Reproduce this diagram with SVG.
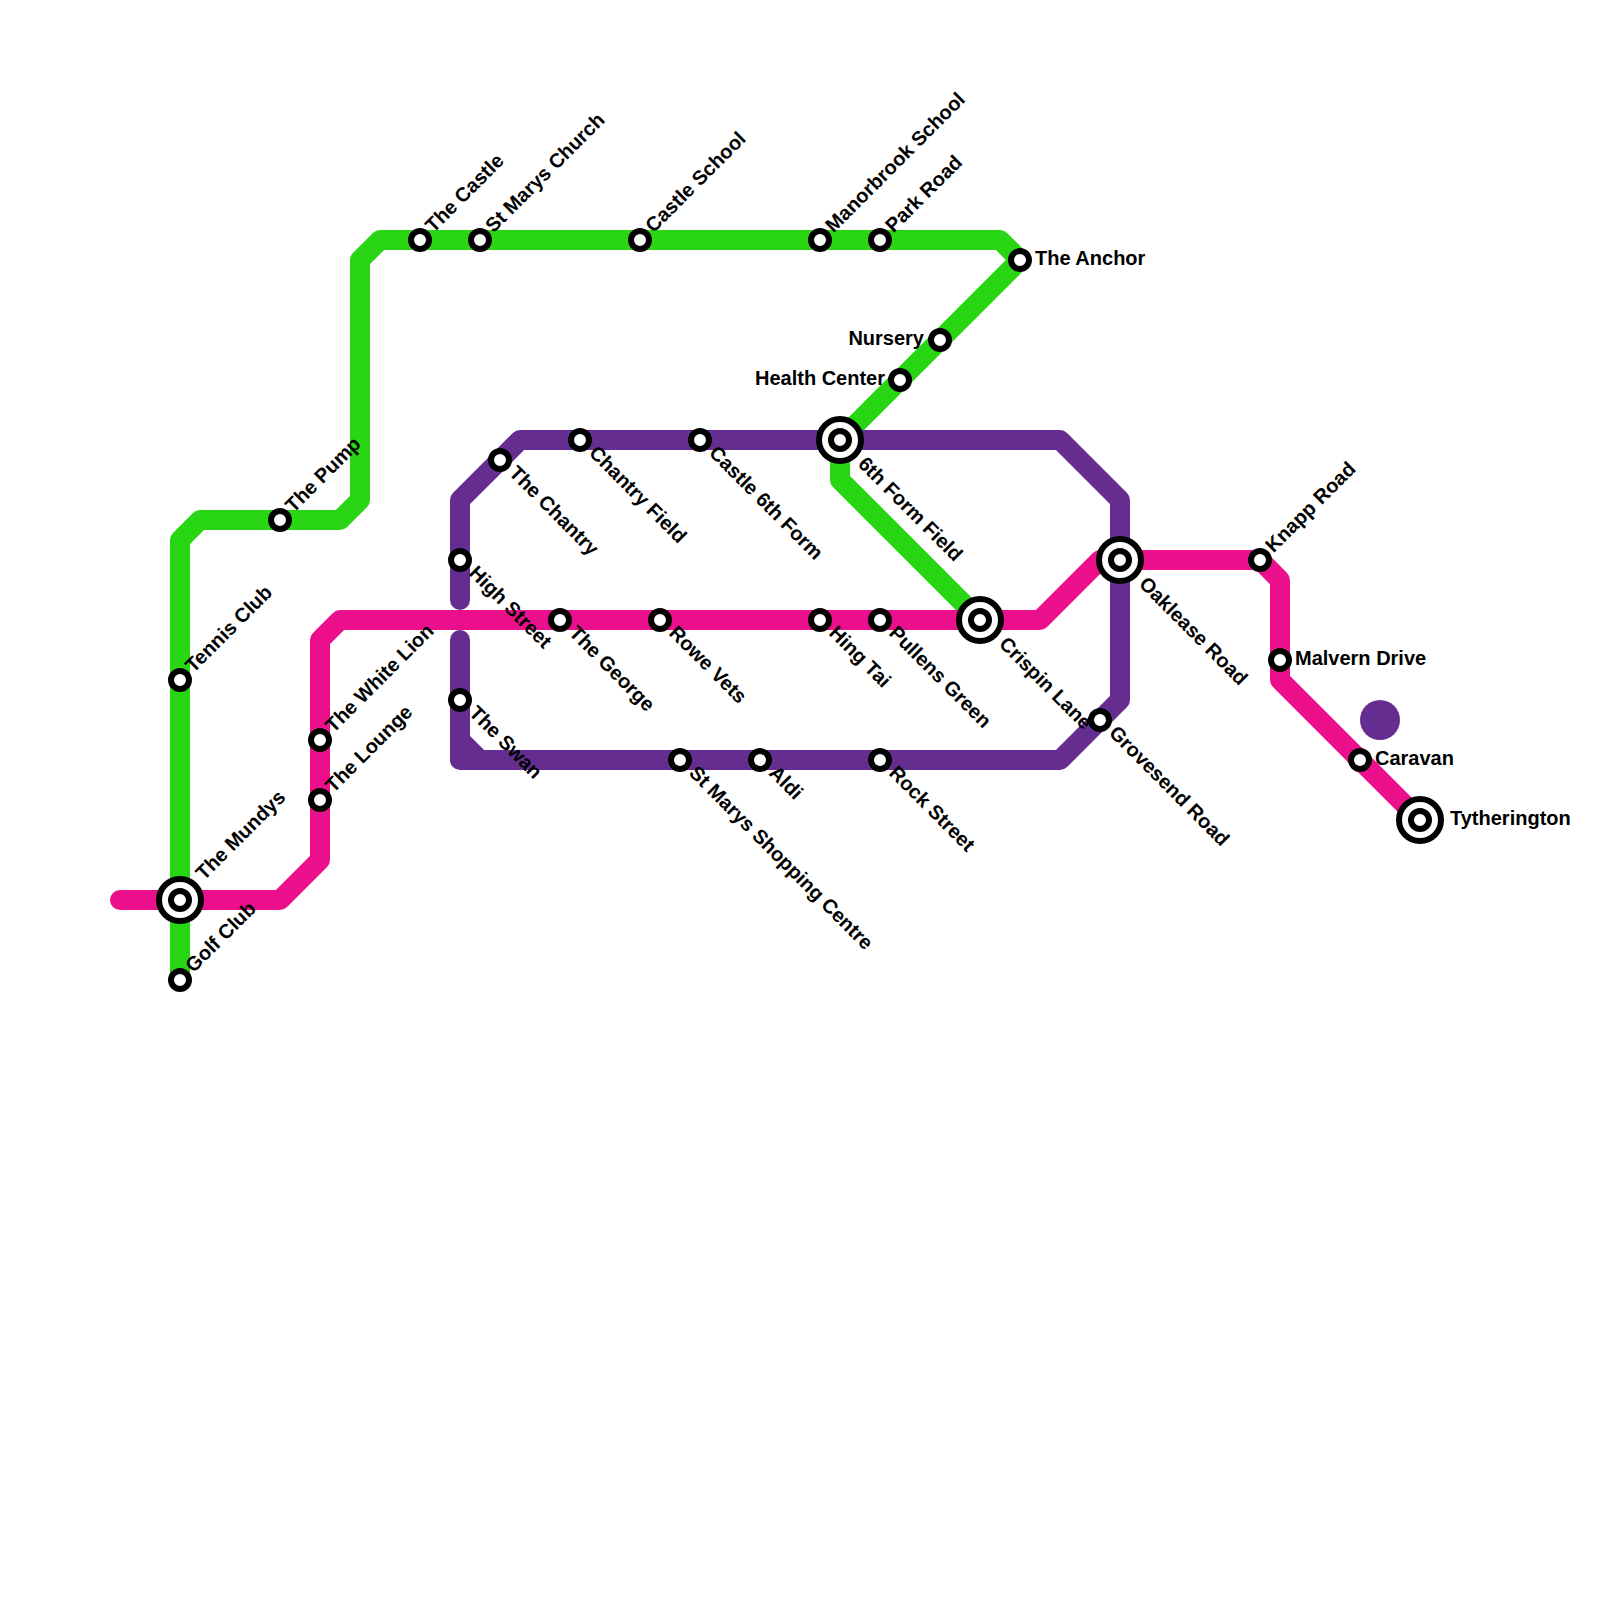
<svg xmlns="http://www.w3.org/2000/svg" width="1600" height="1600" viewBox="0 0 1600 1600">
<style>
.l{fill:none;stroke-width:20;stroke-linecap:round;stroke-linejoin:round}
.g{stroke:#29d613}.p{stroke:#662d91}.m{stroke:#ec0f8c}
.o{fill:#fff;stroke:#000;stroke-width:6}
text{font-family:"Liberation Sans",Arial,sans-serif;font-weight:700;font-size:20px;fill:#000}
.e{text-anchor:end}
</style>
<defs>
<g id="s"><circle class="o" r="9"/></g>
<g id="b"><circle class="o" r="21"/><circle class="o" r="9"/></g>
</defs>
<g id="connectors">
<path class="l g" d="M180 980V540L200 520H340L360 500V260L380 240H1000L1020 260L840 440V480L980 620"/>
<path class="l p" d="M460 600V500L520 440H1060L1120 500V700L1060 760H460V640M460 740L480 760"/>
<path class="l m" d="M120 900H280L320 860V640L340 620H1040L1100 560H1260L1280 580V680L1420 820"/>
</g>
<circle id="decor" cx="1380" cy="720" r="20" fill="#662d91"/>
<g id="the-mundys"><use href="#b" x="180" y="900"/><text transform="translate(204 881) rotate(-45)">The Mundys</text></g>
<g id="golf-club"><use href="#s" x="180" y="980"/><text transform="translate(193.500 973.500) rotate(-45)">Golf Club</text></g>
<g id="tennis-club"><use href="#s" x="180" y="680"/><text transform="translate(193.500 673.500) rotate(-45)">Tennis Club</text></g>
<g id="the-pump"><use href="#s" x="280" y="520"/><text transform="translate(293.500 513.500) rotate(-45)">The Pump</text></g>
<g id="the-castle"><use href="#s" x="420" y="240"/><text transform="translate(433.500 233.500) rotate(-45)">The Castle</text></g>
<g id="st-marys-church"><use href="#s" x="480" y="240"/><text transform="translate(493.500 233.500) rotate(-45)">St Marys Church</text></g>
<g id="castle-school"><use href="#s" x="640" y="240"/><text transform="translate(653.500 233.500) rotate(-45)">Castle School</text></g>
<g id="manorbrook-school"><use href="#s" x="820" y="240"/><text transform="translate(833.500 233.500) rotate(-45)">Manorbrook School</text></g>
<g id="park-road"><use href="#s" x="880" y="240"/><text transform="translate(893.500 233.500) rotate(-45)">Park Road</text></g>
<g id="the-anchor"><use href="#s" x="1020" y="260"/><text x="1035" y="265">The Anchor</text></g>
<g id="nursery"><use href="#s" x="940" y="340"/><text class="e" x="924" y="345">Nursery</text></g>
<g id="health-center"><use href="#s" x="900" y="380"/><text class="e" x="885" y="385">Health Center</text></g>
<g id="the-white-lion"><use href="#s" x="320" y="740"/><text transform="translate(333.500 733.500) rotate(-45)">The White Lion</text></g>
<g id="the-lounge"><use href="#s" x="320" y="800"/><text transform="translate(333.500 793.500) rotate(-45)">The Lounge</text></g>
<g id="knapp-road"><use href="#s" x="1260" y="560"/><text transform="translate(1273.500 553.500) rotate(-45)">Knapp Road</text></g>
<g id="the-chantry"><use href="#s" x="500" y="460"/><text transform="translate(508 474) rotate(45)">The Chantry</text></g>
<g id="chantry-field"><use href="#s" x="580" y="440"/><text transform="translate(588 454) rotate(45)">Chantry Field</text></g>
<g id="castle-6th-form"><use href="#s" x="700" y="440"/><text transform="translate(708 454) rotate(45)">Castle 6th Form</text></g>
<g id="6th-form-field"><use href="#b" x="840" y="440"/><text transform="translate(857 465) rotate(45)">6th Form Field</text></g>
<g id="high-street"><use href="#s" x="460" y="560"/><text transform="translate(468 574) rotate(45)">High Street</text></g>
<g id="the-george"><use href="#s" x="560" y="620"/><text transform="translate(568 634) rotate(45)">The George</text></g>
<g id="rowe-vets"><use href="#s" x="660" y="620"/><text transform="translate(668 634) rotate(45)">Rowe Vets</text></g>
<g id="hing-tai"><use href="#s" x="820" y="620"/><text transform="translate(828 634) rotate(45)">Hing Tai</text></g>
<g id="pullens-green"><use href="#s" x="880" y="620"/><text transform="translate(888 634) rotate(45)">Pullens Green</text></g>
<g id="crispin-lane"><use href="#b" x="980" y="620"/><text transform="translate(998 645) rotate(45)">Crispin Lane</text></g>
<g id="oaklease-road"><use href="#b" x="1120" y="560"/><text transform="translate(1138 585) rotate(45)">Oaklease Road</text></g>
<g id="the-swan"><use href="#s" x="460" y="700"/><text transform="translate(468 714) rotate(45)">The Swan</text></g>
<g id="st-marys-shopping-centre"><use href="#s" x="680" y="760"/><text transform="translate(688 774) rotate(45)">St Marys Shopping Centre</text></g>
<g id="aldi"><use href="#s" x="760" y="760"/><text transform="translate(768 774) rotate(45)">Aldi</text></g>
<g id="rock-street"><use href="#s" x="880" y="760"/><text transform="translate(888 774) rotate(45)">Rock Street</text></g>
<g id="grovesend-road"><use href="#s" x="1100" y="720"/><text transform="translate(1108 734) rotate(45)">Grovesend Road</text></g>
<g id="malvern-drive"><use href="#s" x="1280" y="660"/><text x="1295" y="665">Malvern Drive</text></g>
<g id="caravan"><use href="#s" x="1360" y="760"/><text x="1375" y="765">Caravan</text></g>
<g id="tytherington"><use href="#b" x="1420" y="820"/><text x="1450" y="825">Tytherington</text></g>
</svg>
